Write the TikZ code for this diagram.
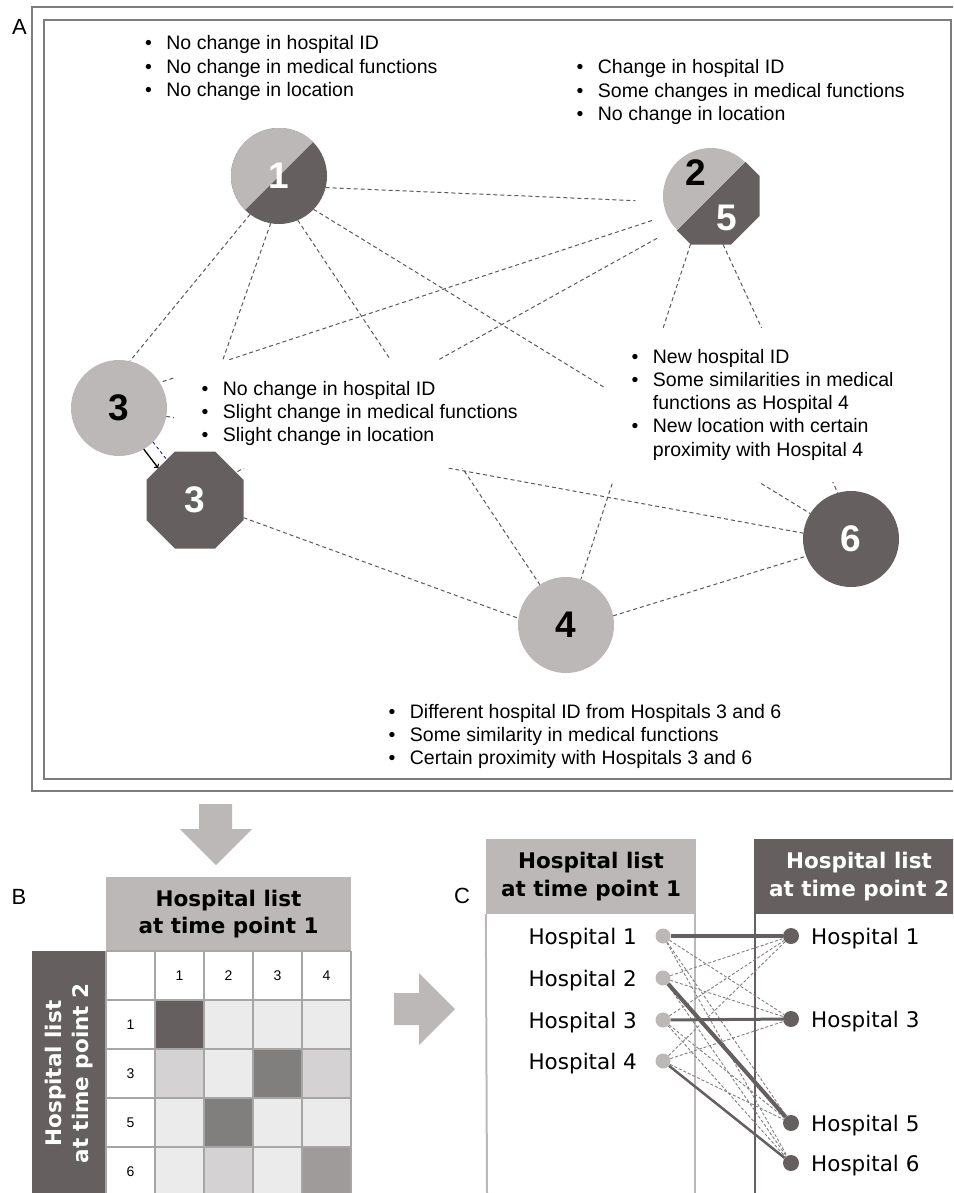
\documentclass[tikz,border=0pt]{standalone}
\usepackage{fontspec}
\setmainfont{Liberation Sans}
\newfontfamily\listfont{DejaVu Sans}
\usetikzlibrary{shapes.geometric}

\definecolor{hlight}{RGB}{188,184,183}
\definecolor{hdark}{RGB}{101,96,95}
\definecolor{cellmid}{RGB}{128,127,126}
\definecolor{cellgray}{RGB}{158,155,154}
\definecolor{cellsoft}{RGB}{212,210,210}
\definecolor{cellpale}{RGB}{235,235,235}
\definecolor{framegray}{RGB}{125,125,125}
\definecolor{linkgray}{RGB}{90,90,90}

\pgfdeclarelayer{paper}
\pgfdeclarelayer{lines}
\pgfdeclarelayer{masks}
\pgfsetlayers{paper,lines,masks,main}

\newenvironment{bullets}{\begin{tabular}[t]{@{}l@{\hspace{14.6pt}}l@{}}}{\end{tabular}}

\tikzset{
  hosp/.style={circle, minimum size=96pt, inner sep=0pt, outer sep=0pt,
    font=\fontsize{37}{37}\selectfont\bfseries},
  octo/.style={regular polygon, regular polygon sides=8, minimum size=105pt,
    inner sep=0pt, outer sep=0pt, font=\fontsize{37}{37}\selectfont\bfseries},
  num/.style={inner sep=0pt, font=\fontsize{37}{37}\selectfont\bfseries},
  link/.style={draw=linkgray, line width=1pt, dash pattern=on 4pt off 3pt},
  note/.style={inner sep=0pt, anchor=text, font=\fontsize{19.5}{23.3}\selectfont},
  hidebox/.style={note, fill=white, inner xsep=28pt, inner ysep=19pt},
  frame/.style={draw=framegray, line width=1.5pt},
  panel/.style={inner sep=0pt, font=\fontsize{22}{22}\selectfont},
  headbox/.style={inner sep=0pt, align=center,
    font=\listfont\bfseries\fontsize{21.5}{27.5}\selectfont},
  cellnum/.style={inner sep=0pt, font=\fontsize{14}{14}\selectfont},
  gridline/.style={draw=black!35, line width=1.2pt},
  bigarrow/.style={fill=hlight},
  listtxt/.style={inner sep=0pt, font=\listfont\fontsize{21.5}{21.5}\selectfont},
  dotl/.style={circle, fill=hlight, minimum size=15pt, inner sep=0pt},
  dotr/.style={circle, fill=hdark, minimum size=16pt, inner sep=0pt},
  match/.style={draw=hdark},
  cand/.style={draw=black!50, line width=0.9pt, dash pattern=on 3pt off 2pt}
}

\begin{document}
\begin{tikzpicture}[x=1pt, y=-1pt]
\useasboundingbox (0,0) rectangle (953,1193);
\clip (0,0) rectangle (953,1193);
\begin{pgfonlayer}{paper}
\fill[white] (0,0) rectangle (953,1193);
\end{pgfonlayer}

% panel A
\draw[frame] (960,7) -- (32,7) -- (32,791) -- (960,791);
\draw[frame] (44,20) rectangle (951,779);
\node[panel] (labA) at (19.5,26.5) {A};

\node[hosp, fill=hdark, text=white, path picture={
  \fill[hlight] (path picture bounding box.north west) -- (path picture bounding box.north east)
    -- (path picture bounding box.south west) -- cycle;}] (h1) at (279,176) {1};
\node[octo, path picture={
  \fill[hdark] (path picture bounding box.north east) -- (path picture bounding box.south east)
    -- (path picture bounding box.south west) -- cycle;}] (h25oct) at (711,196) {};
\node[hosp, path picture={
  \fill[hlight] (path picture bounding box.north west) -- (path picture bounding box.north east)
    -- (path picture bounding box.south west) -- cycle;}] (h25) at (711,196) {};
\node[num] (n2) at (696,173) {2};
\node[num, text=white] (n5) at (727,218) {5};
\node[hosp, fill=hlight] (h3a) at (119,408) {3};
\node[octo, fill=hdark, text=white] (h3b) at (195,500) {3};
\node[hosp, fill=hlight] (h4) at (566,625) {4};
\node[hosp, fill=hdark, text=white] (h6) at (851,539) {6};

\begin{pgfonlayer}{lines}
\path[link] (h1.-14) edge[shorten >=28pt] (h25.187)
            (h1.233) edge (h3a.77)
            (h1.260) edge (h3b.95)
            (h1.293) edge (h4.123)
            (h1.-44) edge (h6.148);
\path[link] (h25.204) edge[shorten <=16pt] (h3a.32)
            (h25.222) edge[shorten <=21pt] (h3b.34)
            (h25oct.247) edge (h4.72)
            (h25oct.284) edge (h6.106);
\path[link] (h3a.-10) edge (h6.173)
            (h3b.-20) edge (h4.172)
            (h4.11) edge (h6.201);
\end{pgfonlayer}
\draw[blue!60!black, dashed, line width=0.8pt] (h3a.-45) -- (h3b.125);
\draw[->, line width=1.3pt] (h3a.-59) -- (h3b.139);

\node[note] (txt1) at (145,50) {\begin{bullets}
  \textbullet & No change in hospital ID\\
  \textbullet & No change in medical functions\\
  \textbullet & No change in location
\end{bullets}};
\node[note] (txt25) at (576.5,74) {\begin{bullets}
  \textbullet & Change in hospital ID\\
  \textbullet & Some changes in medical functions\\
  \textbullet & No change in location
\end{bullets}};
\node[note] (txt4) at (388.5,718) {\begin{bullets}
  \textbullet & Different hospital ID from Hospitals 3 and 6\\
  \textbullet & Some similarity in medical functions\\
  \textbullet & Certain proximity with Hospitals 3 and 6
\end{bullets}};
\begin{pgfonlayer}{masks}
\node[hidebox] (txt3) at (201.5,395) {\begin{bullets}
  \textbullet & No change in hospital ID\\
  \textbullet & Slight change in medical functions\\
  \textbullet & Slight change in location
\end{bullets}};
\node[hidebox] (txt6) at (631.5,363) {\begin{bullets}
  \textbullet & New hospital ID\\
  \textbullet & Some similarities in medical\\
              & functions as Hospital 4\\
  \textbullet & New location with certain\\
              & proximity with Hospital 4
\end{bullets}};
\end{pgfonlayer}

% panel B
\fill[bigarrow] (199,804) -- (232,804) -- (232,829) -- (252,829) -- (216,865)
  -- (180,829) -- (199,829) -- cycle;
\node[panel] (labB) at (19,897) {B};
\node[headbox, fill=hlight, minimum width=245pt, minimum height=74pt] (headB) at (228.5,914)
  {Hospital list\\at time point 1};
\node[headbox, fill=hdark, text=white, rotate=90, minimum width=245pt, minimum height=74pt]
  (rowB) at (69,1073.5) {Hospital list\\at time point 2};

\fill[cellpale] (155,1000) rectangle (351,1196);
\fill[hdark] (155,1000) rectangle (204,1049);
\fill[cellsoft] (155,1049) rectangle (204,1098);
\fill[cellmid] (253,1049) rectangle (302,1098);
\fill[cellsoft] (302,1049) rectangle (351,1098);
\fill[cellmid] (204,1098) rectangle (253,1147);
\fill[cellsoft] (204,1147) rectangle (253,1196);
\fill[cellgray] (302,1147) rectangle (351,1196);
\foreach \gx in {106,155,...,351} \draw[gridline] (\gx,951) -- (\gx,1196);
\foreach \gy in {951,1000,...,1196} \draw[gridline] (106,\gy) -- (351,\gy);

\node[cellnum] (c1) at (179.5,975.5) {1};
\node[cellnum] (c2) at (228.5,975.5) {2};
\node[cellnum] (c3) at (277.5,975.5) {3};
\node[cellnum] (c4) at (326.5,975.5) {4};
\node[cellnum] (r1n) at (130.5,1024.5) {1};
\node[cellnum] (r3n) at (130.5,1073.5) {3};
\node[cellnum] (r5n) at (130.5,1122.5) {5};
\node[cellnum] (r6n) at (130.5,1171.5) {6};

\fill[bigarrow] (394,993) -- (419,993) -- (419,973) -- (455,1009) -- (419,1045)
  -- (419,1025) -- (394,1025) -- cycle;

% panel C
\node[panel] (labC) at (462,896) {C};
\node[headbox, fill=hlight, minimum width=210pt, minimum height=75pt] (headL) at (591,876.5)
  {Hospital list\\at time point 1};
\node[headbox, fill=hdark, text=white, minimum width=210pt, minimum height=75pt] (headR)
  at (859,876.5) {Hospital list\\at time point 2};
\draw[hlight, line width=2pt] (headL.south west) -- (487,1193);
\draw[hlight, line width=2pt] (695,914) -- (695,1193);
\draw[hdark, line width=2pt] (755,914) -- (755,1193);

\node[listtxt, anchor=base east] (tl1) at (637,944) {Hospital 1};
\node[listtxt, anchor=base east] (tl2) at (637,986) {Hospital 2};
\node[listtxt, anchor=base east] (tl3) at (637,1028) {Hospital 3};
\node[listtxt, anchor=base east] (tl4) at (637,1069) {Hospital 4};
\node[dotl] (l1) at (663,936) {};
\node[dotl] (l2) at (663,978) {};
\node[dotl] (l3) at (663,1020) {};
\node[dotl] (l4) at (663,1061) {};

\node[dotr] (r1) at (791,936) {};
\node[dotr] (r3) at (791,1019) {};
\node[dotr] (r5) at (791,1123) {};
\node[dotr] (r6) at (791,1163) {};
\node[listtxt, anchor=base west] (tr1) at (811,944) {Hospital 1};
\node[listtxt, anchor=base west] (tr3) at (811,1027) {Hospital 3};
\node[listtxt, anchor=base west] (tr5) at (811,1131) {Hospital 5};
\node[listtxt, anchor=base west] (tr6) at (811,1171) {Hospital 6};

\path[cand] (l1) edge (r3) edge (r5) edge (r6);
\path[cand] (l2) edge (r1) edge (r3) edge (r6);
\path[cand] (l3) edge (r1) edge (r5) edge (r6);
\path[cand] (l4) edge (r1) edge (r3) edge (r5);
\draw[match, line width=4.5pt] (l1) -- (r1);
\draw[match, line width=4pt] (l2) -- (r5);
\draw[match, line width=3pt] (l3) -- (r3);
\draw[match, line width=2.5pt] (l4) -- (r6);
\end{tikzpicture}
\end{document}
